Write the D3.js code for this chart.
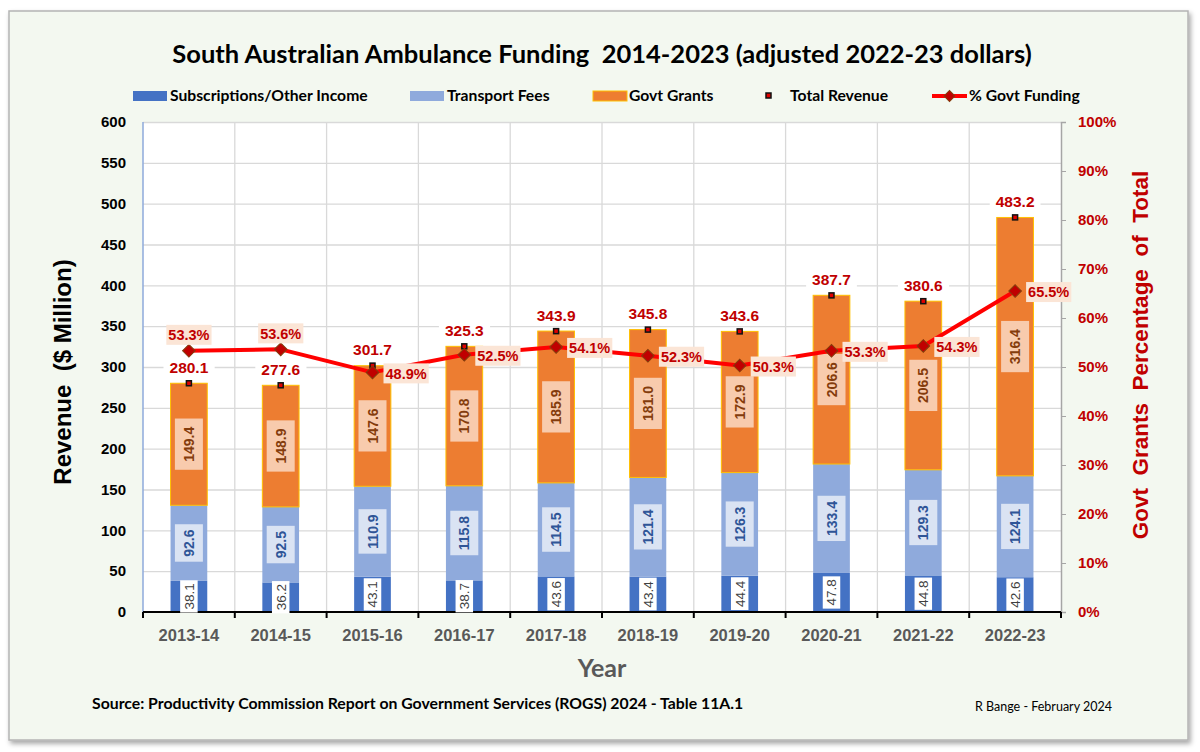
<!DOCTYPE html>
<html><head><meta charset="utf-8">
<script src="https://cdn.jsdelivr.net/npm/d3@7"></script>
<style>body{margin:0;background:#fff;} svg{display:block}</style>
</head><body><svg id="c" width="1200" height="752"></svg>
<script>
// ---------- DATA ----------
const years = ["2013-14","2014-15","2015-16","2016-17","2017-18","2018-19","2019-20","2020-21","2021-22","2022-23"];
const subscriptions = [38.1,36.2,43.1,38.7,43.6,43.4,44.4,47.8,44.8,42.6];
const transportFees = [92.6,92.5,110.9,115.8,114.5,121.4,126.3,133.4,129.3,124.1];
const govtGrants = [149.4,148.9,147.6,170.8,185.9,181.0,172.9,206.6,206.5,316.4];
const totalRevenue = [280.1,277.6,301.7,325.3,343.9,345.8,343.6,387.7,380.6,483.2];
const pctGovtFunding = [53.3,53.6,48.9,52.5,54.1,52.3,50.3,53.3,54.3,65.5];
const pctLabelSide = ["top","top","right","right","right","right","right","right","right","right"];
const revenueTicks = [0,50,100,150,200,250,300,350,400,450,500,550,600];
const pctTicks = [0,10,20,30,40,50,60,70,80,90,100];
const seriesNames = ["Subscriptions/Other Income","Transport Fees","Govt Grants","Total Revenue","% Govt Funding"];

// ---------- LAYOUT ----------
const W = 1200, H = 752;
const P = {l:143, r:1061, t:122, b:612};
const NUM = "'Liberation Sans', Arial, sans-serif";
const CAL = "Lato, 'Open Sans', sans-serif";

const svg = d3.select("#c");
const defs = svg.append("defs");
const f = defs.append("filter").attr("id","sh").attr("x","-5%").attr("y","-5%").attr("width","110%").attr("height","110%");
f.append("feDropShadow").attr("dx",2).attr("dy",3).attr("stdDeviation",2.5).attr("flood-color","#000").attr("flood-opacity",0.35);

// frame
svg.append("rect").attr("x",9).attr("y",11).attr("width",1179).attr("height",729)
  .attr("fill","#f3f8f0").attr("stroke","#b4b4b4").attr("stroke-width",1.5).attr("filter","url(#sh)");

const x = d3.scaleBand().domain(years).range([P.l,P.r]).paddingInner(0).paddingOuter(0);
const y = d3.scaleLinear().domain([0,600]).range([P.b,P.t]);
const y2 = d3.scaleLinear().domain([0,100]).range([P.b,P.t]);
const barW = x.bandwidth()*0.4;
const cx = d => x(d) + x.bandwidth()/2;

// plot area
svg.append("rect").attr("x",P.l).attr("y",P.t).attr("width",P.r-P.l).attr("height",P.b-P.t).attr("fill","#fff");

// horizontal grid
svg.append("g").selectAll("line").data(revenueTicks.filter(v=>v>0)).join("line")
  .attr("x1",P.l).attr("x2",P.r).attr("y1",d=>y(d)+0.5).attr("y2",d=>y(d)+0.5)
  .attr("stroke","#d9d9d9").attr("stroke-width",1.3);
// vertical grid at category boundaries
svg.append("g").selectAll("line").data(years.slice(1)).join("line")
  .attr("x1",d=>x(d)).attr("x2",d=>x(d)).attr("y1",P.t).attr("y2",P.b)
  .attr("stroke","#d9d9d9").attr("stroke-width",1.3);

// left axis
const gl = svg.append("g").attr("transform",`translate(${P.l},0)`)
  .call(d3.axisLeft(y).tickValues(revenueTicks).tickSize(0).tickPadding(17));
gl.select(".domain").remove();
gl.selectAll("text").attr("font-family",NUM).attr("font-weight","bold").attr("font-size",15).attr("fill","#000");
svg.append("line").attr("x1",P.l).attr("x2",P.l).attr("y1",P.t).attr("y2",P.b).attr("stroke","#8eaadb").attr("stroke-width",1.5);

// right axis
const gr = svg.append("g").attr("transform",`translate(${P.r},0)`)
  .call(d3.axisRight(y2).tickValues(pctTicks).tickSize(5).tickPadding(12).tickFormat(d=>d+"%"));
gr.select(".domain").attr("stroke","#a6a6a6").attr("stroke-width",1.5);
gr.selectAll(".tick line").attr("stroke","#a6a6a6");
gr.selectAll("text").attr("font-family",NUM).attr("font-weight","bold").attr("font-size",15).attr("fill","#c00000");

// stacked bars
const rows = years.map((yr,i)=>({year:yr, s:subscriptions[i], t:transportFees[i], g:govtGrants[i]}));
const stack = d3.stack().keys(["s","t","g"])(rows);
const fills = {s:"#4472c4", t:"#8faadc", g:"#ed7d31"};
const strokes = {s:"none", t:"none", g:"#ffc000"};
stack.forEach(layer=>{
  svg.append("g").selectAll("rect").data(layer).join("rect")
    .attr("x",d=>cx(d.data.year)-barW/2).attr("width",barW)
    .attr("y",d=>y(d[1])).attr("height",d=>y(d[0])-y(d[1]))
    .attr("fill",fills[layer.key]).attr("stroke",strokes[layer.key]).attr("stroke-width",1);
});

// bottom axis
svg.append("line").attr("x1",P.l).attr("x2",P.r).attr("y1",P.b).attr("y2",P.b).attr("stroke","#000").attr("stroke-width",2);
svg.append("g").selectAll("line").data(years.map(d=>x(d)).concat([P.r])).join("line")
  .attr("x1",d=>d).attr("x2",d=>d).attr("y1",P.b).attr("y2",P.b+6).attr("stroke","#000").attr("stroke-width",2);
const gb = svg.append("g").attr("transform",`translate(0,${P.b})`)
  .call(d3.axisBottom(x).tickSize(0).tickPadding(17));
gb.select(".domain").remove();
gb.selectAll("text").attr("font-family",NUM).attr("font-weight","bold").attr("font-size",16.5).attr("fill","#595959");

// segment labels
const segStyle = {
  s:{bg:"#ffffff", fg:"#404040", w:"normal", fs:13.5, padA:3, padC:2},
  t:{bg:"#dae3f3", fg:"#2f5597", w:"bold", fs:14, padA:5, padC:7},
  g:{bg:"#f8cbad", fg:"#843c0c", w:"bold", fs:14, padA:8, padC:7}
};
stack.forEach(layer=>{
  const st = segStyle[layer.key];
  layer.forEach(d=>{
    const v = d[1]-d[0];
    const g = svg.append("g").attr("transform",`translate(${cx(d.data.year)},${y((d[0]+d[1])/2)}) rotate(-90)`);
    const r = g.append("rect").attr("fill",st.bg);
    const t = g.append("text").text(v.toFixed(1)).attr("text-anchor","middle").attr("dy","0.36em")
      .attr("font-family",NUM).attr("font-weight",st.w).attr("font-size",st.fs).attr("fill",st.fg);
    const bb = t.node().getBBox();
    r.attr("x",bb.x-st.padA).attr("width",bb.width+2*st.padA)
     .attr("y",-(st.fs*1.0)/2-st.padC).attr("height",st.fs*1.0+2*st.padC);
  });
});

// total revenue labels & markers
years.forEach((yr,i)=>{
  const g = svg.append("g").attr("transform",`translate(${cx(yr)},${y(totalRevenue[i])-16})`);
  const r = g.append("rect").attr("fill","#fff");
  const t = g.append("text").text(totalRevenue[i].toFixed(1)).attr("text-anchor","middle").attr("dy","0.36em")
    .attr("font-family",NUM).attr("font-weight","bold").attr("font-size",15.5).attr("fill","#c00000");
  const bb = t.node().getBBox();
  r.attr("x",bb.x-6).attr("width",bb.width+12).attr("y",-10).attr("height",20);
  svg.append("rect").attr("x",cx(yr)-2.5).attr("y",y(totalRevenue[i])-2.5).attr("width",5).attr("height",5)
    .attr("fill","#e00000").attr("stroke","#111").attr("stroke-width",1.5);
});

// % govt funding line
const line = d3.line().x((d,i)=>cx(years[i])).y(d=>y2(d));
svg.append("path").datum(pctGovtFunding).attr("d",line).attr("fill","none").attr("stroke","#ff0000").attr("stroke-width",4).attr("stroke-linejoin","round");
const diamond = d3.symbol(d3.symbolSquare, 80);
svg.append("g").selectAll("path").data(pctGovtFunding).join("path")
  .attr("d",diamond).attr("transform",(d,i)=>`translate(${cx(years[i])},${y2(d)}) rotate(45)`)
  .attr("fill","#c00000").attr("stroke","#843c0c").attr("stroke-width",1);

pctGovtFunding.forEach((v,i)=>{
  const side = pctLabelSide[i];
  const px = cx(years[i]), py = y2(v);
  const g = svg.append("g").attr("transform", side==="top" ? `translate(${px},${py-16})` : `translate(${px+13},${py+1})`);
  const r = g.append("rect").attr("fill","#fbe5d6");
  const t = g.append("text").text(v.toFixed(1)+"%").attr("text-anchor", side==="top"?"middle":"start").attr("dy","0.36em")
    .attr("font-family",NUM).attr("font-weight","bold").attr("font-size",14.5).attr("fill","#c00000");
  const bb = t.node().getBBox();
  r.attr("x",bb.x-2).attr("width",bb.width+4).attr("y",-10).attr("height",20);
});

// title
svg.append("text").attr("x",602).attr("y",63).attr("text-anchor","middle")
  .attr("font-family",CAL).attr("font-weight","bold").attr("font-size",25.5).attr("fill","#000")
  .attr("xml:space","preserve").text("South Australian Ambulance Funding  2014-2023 (adjusted 2022-23 dollars)");

// legend
const legY = 96;
const leg = svg.append("g");
const legTx = [170,447,629,790,969];
leg.selectAll("text").data(seriesNames).join("text")
  .attr("x",(d,i)=>legTx[i]).attr("y",legY+5).text(d=>d)
  .attr("font-family",CAL).attr("font-weight","bold").attr("font-size",15.7).attr("fill","#000");
leg.append("rect").attr("x",133).attr("y",legY-5).attr("width",34).attr("height",10).attr("fill",fills.s);
leg.append("rect").attr("x",410).attr("y",legY-5).attr("width",34).attr("height",10).attr("fill",fills.t);
leg.append("rect").attr("x",593).attr("y",legY-5).attr("width",34).attr("height",10).attr("fill",fills.g).attr("stroke",strokes.g);
leg.append("rect").attr("x",766).attr("y",legY-3).attr("width",5).attr("height",5).attr("fill","#e00000").attr("stroke","#111").attr("stroke-width",1.5);
leg.append("line").attr("x1",932).attr("x2",967).attr("y1",legY).attr("y2",legY).attr("stroke","#ff0000").attr("stroke-width",4);
leg.append("path").attr("d",d3.symbol(d3.symbolSquare,60)).attr("transform",`translate(949.5,${legY}) rotate(45)`).attr("fill","#c00000").attr("stroke","#843c0c");

// axis titles
svg.append("text").attr("transform","translate(71,372) rotate(-90)").attr("text-anchor","middle")
  .attr("font-family",NUM).attr("font-weight","bold").attr("font-size",24).attr("fill","#000")
  .attr("xml:space","preserve").text("Revenue  ($ Million)");
svg.append("text").attr("transform","translate(1148,355) rotate(-90)").attr("text-anchor","middle")
  .attr("font-family",NUM).attr("font-weight","bold").attr("font-size",22.5).attr("fill","#c00000")
  .attr("xml:space","preserve").text("Govt  Grants  Percentage  of  Total");
svg.append("text").attr("x",602).attr("y",677).attr("text-anchor","middle")
  .attr("font-family",CAL).attr("font-weight","bold").attr("font-size",25).attr("fill","#595959").text("Year");

// footer
svg.append("text").attr("x",92).attr("y",709)
  .attr("font-family",CAL).attr("font-weight","bold").attr("font-size",15.8).attr("fill","#000")
  .text("Source: Productivity Commission Report on Government Services (ROGS) 2024 - Table 11A.1");
svg.append("text").attr("x",975).attr("y",711)
  .attr("font-family",CAL).attr("font-weight","normal").attr("font-size",12.5).attr("fill","#000")
  .text("R Bange - February 2024");
</script></body></html>
